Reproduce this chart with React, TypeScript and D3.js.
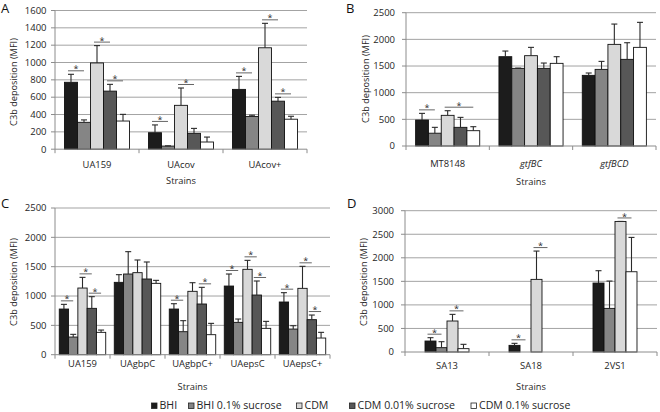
import React from "react";
import * as d3 from "d3";

// ---------- shared legend ----------
const seriesNames = ["BHI", "BHI 0.1% sucrose", "CDM", "CDM 0.01% sucrose", "CDM 0.1% sucrose"];
const seriesColors = ["#1c1c1c", "#858585", "#d9d9d9", "#575757", "#ffffff"];

// ---------- Panel A ----------
const strainsA = ["UA159", "UAcov", "UAcov+"];
const ticksA = [0, 200, 400, 600, 800, 1000, 1200, 1400, 1600];
const bhiA = [772, 190, 690];
const bhiSucA = [310, 36, 378];
const cdmA = [995, 506, 1170];
const cdm001A = [670, 183, 554];
const cdm01A = [325, 83, 346];
const errBhiA = [92, 90, 150];
const errBhiSucA = [28, 3, 14];
const errCdmA = [200, 200, 282];
const errCdm001A = [78, 57, 44];
const errCdm01A = [77, 57, 34];
const sigA: [number, number, number][] = [
  [0, 0, 1], [0, 2, 3], [0, 3, 4],
  [1, 0, 1], [1, 2, 3],
  [2, 0, 1], [2, 2, 3], [2, 3, 4],
];

// ---------- Panel B ----------
const strainsB = ["MT8148", "gtfBC", "gtfBCD"];
const italicB = ["gtfBC", "gtfBCD"];
const ticksB = [0, 500, 1000, 1500, 2000, 2500];
const bhiB = [487, 1675, 1325];
const bhiSucB = [240, 1456, 1437];
const cdmB = [575, 1694, 1906];
const cdm001B = [350, 1456, 1625];
const cdm01B = [287, 1550, 1850];
const errBhiB = [125, 106, 44];
const errBhiSucB = [110, 5, 150];
const errCdmB = [87, 156, 381];
const errCdm001B = [187, 100, 312];
const errCdm01B = [75, 125, 469];
const sigB: [number, number, number][] = [[0, 0, 1], [0, 2, 4]];

// ---------- Panel C ----------
const strainsC = ["UA159", "UAgbpC", "UAgbpC+", "UAepsC", "UAepsC+"];
const ticksC = [0, 500, 1000, 1500, 2000, 2500];
const bhiC = [778, 1233, 778, 1170, 898];
const bhiSucC = [301, 1375, 392, 551, 437];
const cdmC = [1136, 1398, 1080, 1455, 1131];
const cdm001C = [790, 1290, 864, 1017, 597];
const cdm01C = [381, 1216, 341, 449, 284];
const errBhiC = [80, 131, 91, 205, 159];
const errBhiSucC = [46, 381, 188, 57, 57];
const errCdmC = [182, 216, 147, 153, 375];
const errCdm001C = [199, 290, 284, 239, 79];
const errCdm01C = [39, 51, 193, 119, 97];
const sigC: [number, number, number][] = [
  [0, 0, 1], [0, 2, 3], [0, 3, 4],
  [2, 0, 1], [2, 3, 4],
  [3, 0, 1], [3, 2, 3], [3, 3, 4],
  [4, 0, 1], [4, 2, 3], [4, 3, 4],
];

// ---------- Panel D (four series: BHI, BHI 0.1%, CDM, CDM 0.1%) ----------
const strainsD = ["SA13", "SA18", "2VS1"];
const ticksD = [0, 500, 1000, 1500, 2000, 2500, 3000];
const seriesD = [0, 1, 2, 4];
const bhiD = [233, 141, 1464];
const bhiSucD = [92, 0, 926];
const cdmD = [658, 1542, 2772];
const cdm01D = [71, 0, 1704];
const errBhiD = [71, 43, 262];
const errBhiSucD = [127, 0, 580];
const errCdmD = [141, 601, 0];
const errCdm01D = [92, 0, 729];
const sigD: [number, number, number][] = [[0, 0, 1], [0, 2, 3], [1, 0, 1], [1, 2, 3], [2, 2, 3]];

const FONT = "'Open Sans', sans-serif";
const TXT = "#262626";
const GRID = "#a3a3a3";
const AXIS = "#8c8c8c";

type PanelProps = {
  letter: string;
  letterX: number;
  letterY: number;
  strains: string[];
  italic?: string[];
  values: number[][];
  errors: number[][];
  seriesIdx: number[];
  sig: [number, number, number][];
  ticks: number[];
  x0: number;
  x1: number;
  yZero: number;
  yTop: number;
  pad: number;
  tickLabelGap: number;
  titleX: number;
  titleY: number;
  catY: number;
  strainsY: number;
};

function Panel(p: PanelProps) {
  const yMax = p.ticks[p.ticks.length - 1];
  const y = d3.scaleLinear().domain([0, yMax]).range([p.yZero, p.yTop]);
  const gx = d3.scaleBand<string>().domain(p.strains).range([p.x0, p.x1]).paddingInner(0).paddingOuter(0);
  const sx = d3
    .scaleBand<number>()
    .domain(p.seriesIdx.map((_, i) => i))
    .range([0, gx.bandwidth()])
    .paddingInner(0)
    .paddingOuter(p.pad);
  const bw = sx.bandwidth();
  const center = (ci: number, si: number) => (gx(p.strains[ci]) as number) + (sx(si) as number) + bw / 2;

  return (
    <g>
      <text x={p.letterX} y={p.letterY} fontSize={13} fill="#111" fontFamily={FONT}>
        {p.letter}
      </text>
      {p.ticks.filter((t) => t > 0).map((t) => (
        <line key={"g" + t} x1={p.x0} x2={p.x1} y1={y(t)} y2={y(t)} stroke={GRID} strokeWidth={1} />
      ))}
      <line x1={p.x0} x2={p.x0} y1={p.yZero} y2={p.yTop} stroke={AXIS} strokeWidth={1} />
      {p.ticks.map((t) => (
        <g key={"t" + t}>
          <line x1={p.x0 - 4} x2={p.x0} y1={y(t)} y2={y(t)} stroke={AXIS} strokeWidth={1} />
          <text
            x={p.x0 - p.tickLabelGap}
            y={y(t) + 3.3}
            textAnchor="end"
            fontSize={9.5}
            fill={TXT}
            fontFamily={FONT}
          >
            {t}
          </text>
        </g>
      ))}
      <text
        transform={`translate(${p.titleX},${p.titleY}) rotate(-90)`}
        textAnchor="middle"
        fontSize={9.2}
        fill={TXT}
        fontFamily={FONT}
      >
        C3b deposition (MFI)
      </text>
      {p.strains.map((s, ci) =>
        p.seriesIdx.map((sIdx, si) => {
          const v = p.values[si][ci];
          if (!(v > 0)) return null;
          const x = (gx(s) as number) + (sx(si) as number);
          return (
            <rect
              key={"b" + ci + "-" + si}
              x={x}
              y={y(v)}
              width={bw}
              height={p.yZero - y(v)}
              fill={seriesColors[sIdx]}
              stroke="#111"
              strokeWidth={0.9}
            />
          );
        })
      )}
      {p.strains.map((s, ci) =>
        p.seriesIdx.map((sIdx, si) => {
          const v = p.values[si][ci];
          if (!(v > 0)) return null;
          const e = p.errors[si][ci];
          const cx = center(ci, si);
          return (
            <g key={"e" + ci + "-" + si} stroke="#2a2a2a" strokeWidth={1.1}>
              <line x1={cx} x2={cx} y1={y(v)} y2={y(v + e)} />
              <line x1={cx - 3} x2={cx + 3} y1={y(v + e)} y2={y(v + e)} />
            </g>
          );
        })
      )}
      {p.sig.map(([ci, a, b], k) => {
        let top = 0;
        for (let si = a; si <= b; si++) top = Math.max(top, p.values[si][ci] + p.errors[si][ci]);
        const ly = y(top) - 3.5;
        const xa = center(ci, a) - 3;
        const xb = center(ci, b);
        return (
          <g key={"s" + k}>
            <line x1={xa} x2={xb} y1={ly} y2={ly} stroke="#666" strokeWidth={1} />
            <text
              x={(xa + xb) / 2}
              y={ly + 1.6}
              textAnchor="middle"
              fontSize={9}
              fill="#222"
              fontFamily={FONT}
              style={{ textRendering: "geometricPrecision" }}
            >
              *
            </text>
          </g>
        );
      })}
      <line x1={p.x0} x2={p.x1} y1={p.yZero} y2={p.yZero} stroke={AXIS} strokeWidth={1} />
      {[...p.strains.map((s) => gx(s) as number), p.x1].map((bx, i) => (
        <line key={"xt" + i} x1={bx} x2={bx} y1={p.yZero} y2={p.yZero + 4} stroke={AXIS} strokeWidth={1} />
      ))}
      {p.strains.map((s) => (
        <text
          key={"c" + s}
          x={(gx(s) as number) + gx.bandwidth() / 2}
          y={p.catY}
          textAnchor="middle"
          fontSize={9.4}
          fontStyle={p.italic && p.italic.includes(s) ? "italic" : "normal"}
          fill={TXT}
          fontFamily={FONT}
        >
          {s}
        </text>
      ))}
      <text x={(p.x0 + p.x1) / 2} y={p.strainsY} textAnchor="middle" fontSize={9.3} fill={TXT} fontFamily={FONT}>
        Strains
      </text>
    </g>
  );
}

const legendX = [151.5, 188.5, 296.5, 349.5, 471];

export default function App() {
  return (
    <svg
      width={660}
      height={412}
      viewBox="0 0 660 412"
      style={{ position: "absolute", left: 0, top: 0, background: "#fff" }}
    >
      <rect x={0} y={0} width={660} height={412} fill="#fff" />
      <Panel
        letter="A"
        letterX={1}
        letterY={12.5}
        strains={strainsA}
        values={[bhiA, bhiSucA, cdmA, cdm001A, cdm01A]}
        errors={[errBhiA, errBhiSucA, errCdmA, errCdm001A, errCdm01A]}
        seriesIdx={[0, 1, 2, 3, 4]}
        sig={sigA}
        ticks={ticksA}
        x0={55}
        x1={307}
        yZero={149.2}
        yTop={10.5}
        pad={0.73}
        tickLabelGap={8.5}
        titleX={17}
        titleY={82}
        catY={167.5}
        strainsY={183.5}
      />
      <Panel
        letter="B"
        letterX={346}
        letterY={13}
        strains={strainsB}
        italic={italicB}
        values={[bhiB, bhiSucB, cdmB, cdm001B, cdm01B]}
        errors={[errBhiB, errBhiSucB, errCdmB, errCdm001B, errCdm01B]}
        seriesIdx={[0, 1, 2, 3, 4]}
        sig={sigB}
        ticks={ticksB}
        x0={406}
        x1={656}
        yZero={146}
        yTop={12.7}
        pad={0.75}
        tickLabelGap={11}
        titleX={368.5}
        titleY={79}
        catY={166.5}
        strainsY={184.5}
      />
      <Panel
        letter="C"
        letterX={1}
        letterY={208}
        strains={strainsC}
        values={[bhiC, bhiSucC, cdmC, cdm001C, cdm01C]}
        errors={[errBhiC, errBhiSucC, errCdmC, errCdm001C, errCdm01C]}
        seriesIdx={[0, 1, 2, 3, 4]}
        sig={sigC}
        ticks={ticksC}
        x0={55}
        x1={330}
        yZero={354.7}
        yTop={208}
        pad={0.46}
        tickLabelGap={8.5}
        titleX={17}
        titleY={282}
        catY={367}
        strainsY={389.5}
      />
      <Panel
        letter="D"
        letterX={347}
        letterY={208}
        strains={strainsD}
        values={[bhiD, bhiSucD, cdmD, cdm01D]}
        errors={[errBhiD, errBhiSucD, errCdmD, errCdm01D]}
        seriesIdx={seriesD}
        sig={sigD}
        ticks={ticksD}
        x0={405}
        x1={657}
        yZero={352}
        yTop={210.7}
        pad={1.82}
        tickLabelGap={11}
        titleX={367}
        titleY={282}
        catY={369}
        strainsY={389.5}
      />
      {seriesNames.map((name, i) => (
        <g key={"lg" + i}>
          <rect x={legendX[i]} y={403} width={5.5} height={5.5} fill={seriesColors[i]} stroke="#222" strokeWidth={0.8} />
          <text x={legendX[i] + 8} y={409} fontSize={10.6} fill={TXT} fontFamily={FONT}>
            {name}
          </text>
        </g>
      ))}
    </svg>
  );
}
